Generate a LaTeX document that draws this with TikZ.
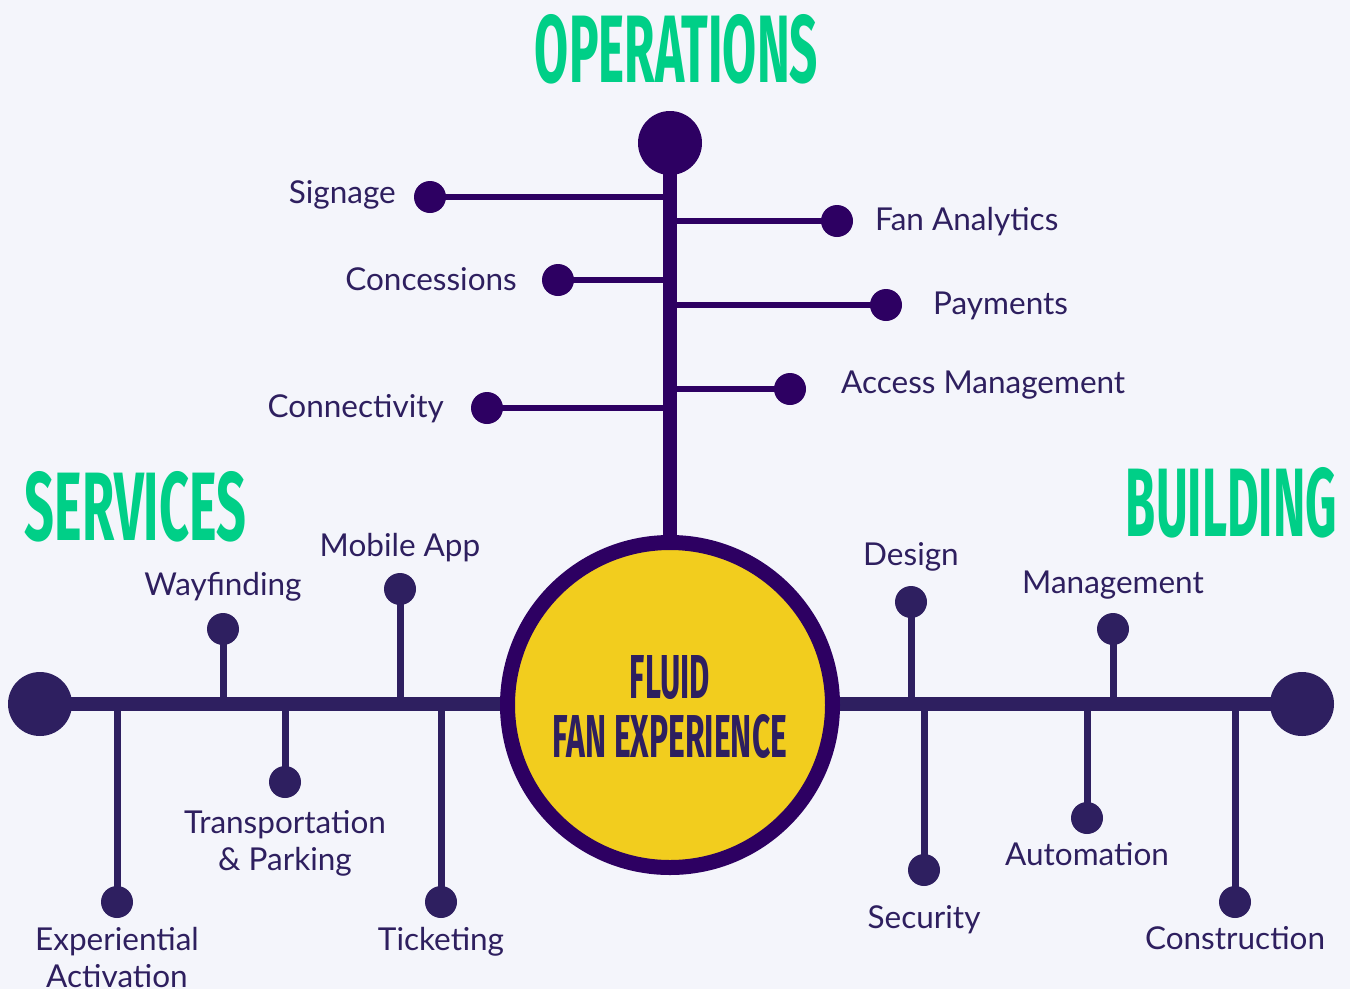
\documentclass[tikz,border=0pt]{standalone}
\usepackage{fontspec}
\usepackage{graphicx}
\setmainfont{Lato}
\newfontfamily\titlefont{Fira Sans}
\definecolor{bgc}{HTML}{F4F5FB}
\definecolor{opsc}{HTML}{2D0062}
\definecolor{linec}{HTML}{2E1F60}
\definecolor{txtc}{HTML}{2E1F5F}
\definecolor{greenc}{HTML}{00CF87}
\definecolor{yellowc}{HTML}{F2CD1E}
\tikzset{
  lbl/.style={text=txtc, inner sep=0pt, font=\fontsize{31.5}{37}\selectfont, align=center},
  headline/.style={text=greenc, inner sep=0pt},
  dot/.style={circle, fill=#1, inner sep=0pt, minimum size=32pt},
  hub/.style={circle, fill=#1, inner sep=0pt, minimum size=64pt},
  trunkline/.style={draw=opsc, line width=14pt},
  opsbranch/.style={draw=opsc, line width=6pt},
  mainline/.style={draw=linec, line width=14pt},
  stemline/.style={draw=linec, line width=7pt},
}
\newcommand{\headword}[3]{\resizebox{#1pt}{#2pt}{\titlefont\bfseries #3}}
\begin{document}
\begin{tikzpicture}[x=1pt, y=-1pt]
  \fill[bgc] (0,0) rectangle (1350,989);
  \useasboundingbox (0,0) rectangle (1350,989);

  % centre point and hubs
  \coordinate (mid) at (670,705);
  \node[hub=opsc] (ops) at (670,143) {};
  \node[hub=linec] (srv) at (40,704) {};
  \node[hub=linec] (bld) at (1302,704) {};

  % branch ends: operations
  \node[dot=opsc] (sig) at (430,197) {};
  \node[dot=opsc] (con) at (558,280) {};
  \node[dot=opsc] (cnt) at (487,408) {};
  \node[dot=opsc] (fan) at (837,221) {};
  \node[dot=opsc] (pay) at (886,305) {};
  \node[dot=opsc] (acc) at (790,389) {};

  % branch ends: services
  \node[dot=linec] (way) at (223,629) {};
  \node[dot=linec] (mob) at (400,589) {};
  \node[dot=linec] (exp) at (117,902) {};
  \node[dot=linec] (trp) at (285,782) {};
  \node[dot=linec] (tic) at (441,902) {};

  % branch ends: building
  \node[dot=linec] (des) at (911,602) {};
  \node[dot=linec] (man) at (1113,629) {};
  \node[dot=linec] (sec) at (924,870) {};
  \node[dot=linec] (aut) at (1087,818) {};
  \node[dot=linec] (cst) at (1235,902) {};

  % services and building stems
  \foreach \n in {way,mob,exp,trp,tic}
    \draw[stemline] (\n.center) -- (\n.center |- srv.center);
  \foreach \n in {des,man,sec,aut,cst}
    \draw[stemline] (\n.center) -- (\n.center |- bld.center);

  % operations branches
  \foreach \n in {sig,con,cnt,fan,pay,acc}
    \draw[opsbranch] (\n.center) -- (\n.center -| ops.center);

  % main connectors, passing under the centre disc
  \draw[trunkline] (ops.center) -- (mid);
  \draw[mainline] (srv.center) -- (bld.center);

  % centre disc
  \node[circle, draw=opsc, line width=15pt, fill=yellowc, minimum size=325pt, inner sep=0pt] (core) at (mid) {};

  % headings
  \node[headline] (hops) at (676.5,49) {\headword{283}{68}{OPERATIONS}};
  \node[headline] (hsrv) at (135.5,506.5) {\headword{221}{69}{SERVICES}};
  \node[headline] (hbld) at (1231.5,502.5) {\headword{211}{69}{BUILDING}};

  % centre title
  \node[text=txtc, inner sep=0pt] (t1) at (670,677.5) {\headword{80}{43}{FLUID}};
  \node[text=txtc, inner sep=0pt] (t2) at (670,736.5) {\headword{234}{43}{FAN EXPERIENCE}};

  % operations labels
  \node[lbl, anchor=base east] (lsig) at (396,203) {Signage};
  \node[lbl, anchor=base east] (lcon) at (517,290) {Concessions};
  \node[lbl, anchor=base east] (lcnt) at (444,417) {Connectivity};
  \node[lbl, anchor=base west] (lfan) at (875,230) {Fan Analytics};
  \node[lbl, anchor=base west] (lpay) at (933,314) {Payments};
  \node[lbl, anchor=base west] (lacc) at (841,393) {Access Management};

  % services labels
  \node[lbl, anchor=base] (lway) at (223,595) {Wayfinding};
  \node[lbl, anchor=base] (lmob) at (400,556) {Mobile App};
  \node[lbl, anchor=base] (ltrp) at (285,870) {Transportation\\\& Parking};
  \node[lbl, anchor=base] (lexp) at (117,987) {Experiential\\Activation};
  \node[lbl, anchor=base] (ltic) at (441,950) {Ticketing};

  % building labels
  \node[lbl, anchor=base] (ldes) at (911,565) {Design};
  \node[lbl, anchor=base] (lman) at (1113,593) {Management};
  \node[lbl, anchor=base] (lsec) at (924,928) {Security};
  \node[lbl, anchor=base] (laut) at (1087,865) {Automation};
  \node[lbl, anchor=base] (lcst) at (1235,949) {Construction};
\end{tikzpicture}
\end{document}
